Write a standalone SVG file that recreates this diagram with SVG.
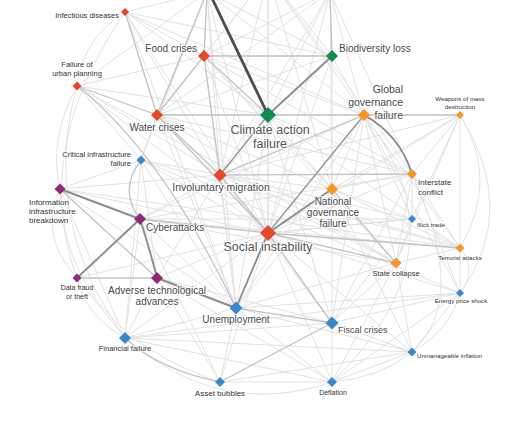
<svg xmlns="http://www.w3.org/2000/svg" width="531" height="442" viewBox="0 0 531 442">
<style>
.e1{stroke:#e2e2e2;stroke-width:1;fill:none}
.e2{stroke:#c3c3c3;stroke-width:1.3;fill:none}
.e3{stroke:#8c8c8c;stroke-width:1.9;fill:none}
.e4{stroke:#4d4d4d;stroke-width:2.8;fill:none}
.r{fill:#e4472b}.g{fill:#128a52}.o{fill:#f2962a}.b{fill:#3c87c7}.p{fill:#8c2a7c}
text{font-family:"Liberation Sans",Arial,sans-serif;fill:#444;stroke:#fff;stroke-width:2;stroke-opacity:0.75;paint-order:stroke}
.lg{font-size:12.5px;fill:#555}
.md{font-size:10px;fill:#4a4a4a}
.sm{font-size:7.5px;fill:#333}
.xs{font-size:6.2px;fill:#333}
</style>
<rect width="531" height="442" fill="#fff"/>
<g id="connectors">
<g class="e1">
<path d="M207 -8L204 56M207 -8L157 115M207 -8L220 175M207 -8L268 233M207 -8L332 56M207 -8L125 12M207 -8L77 86M207 -8L364 115M207 -8L141 160M207 -8L236 308"/>
<path d="M268 -25L268 115M268 -25L204 56M268 -25L332 56M268 -25L268 233M268 -25L220 175M268 -25L157 115M268 -25L364 115M268 -25L332 189M268 -25L412 174"/>
<path d="M330 -8L332 56M330 -8L268 115M330 -8L204 56M330 -8L364 115M330 -8L220 175M330 -8L268 233M330 -8L157 115M330 -8L412 174M330 -8L332 189"/>
<path d="M125 12L204 56M125 12L268 115M125 12L220 175M125 12L268 233M125 12L236 308M125 12L364 115M125 12L332 56"/>
<path d="M204 56L332 56M204 56L268 233M204 56L77 86M204 56L364 115M204 56L412 174M204 56L332 189M204 56L236 308M204 56L396 263"/>
<path d="M332 56L364 115M332 56L157 115M332 56L220 175M332 56L268 233M332 56L332 189"/>
<path d="M77 86L268 115M77 86L220 175M77 86L268 233M77 86L141 160M77 86L396 263"/>
<path d="M157 115L268 233M157 115L364 115M157 115L332 189M157 115L412 174M157 115L396 263M157 115L236 308M157 115L141 160"/>
<path d="M268 115L268 233M268 115L332 189M268 115L412 174M268 115L396 263M268 115L236 308M268 115L332 323M268 115L460 248"/>
<path d="M364 115L220 175M364 115L332 189M364 115L396 263M364 115L460 248M364 115L460 115M364 115L412 219M364 115L332 323M364 115L236 308M364 115L460 293M364 115L140 219"/>
<path d="M460 115L412 174M460 115L460 248M460 115L396 263M460 115L268 233M460 115L332 189M460 115L220 175M460 115L412 219"/>
<path d="M141 160L60 189M141 160L268 233M141 160L220 175M141 160L157 278M141 160L125 338M141 160L236 308M141 160L460 293M141 160L460 248"/>
<path d="M60 189L157 278M60 189L268 233M60 189L220 175M60 189L125 338M60 189L236 308M60 189L460 248"/>
<path d="M220 175L332 189M220 175L396 263M220 175L236 308M220 175L460 248M220 175L332 323M220 175L412 219M220 175L157 278M220 175L140 219"/>
<path d="M332 189L396 263M332 189L412 174M332 189L412 219M332 189L460 248M332 189L332 323M332 189L236 308M332 189L412 352"/>
<path d="M412 174L268 233M412 174L396 263M412 174L460 248M412 174L412 219M412 174L460 293M412 174L332 323"/>
<path d="M140 219L268 233M140 219L236 308M140 219L125 338M140 219L460 248M140 219L412 174M140 219L396 263M140 219L412 219M140 219L220 382"/>
<path d="M412 219L268 233M412 219L396 263M412 219L460 248M412 219L332 323"/>
<path d="M268 233L332 323M268 233L157 278M268 233L332 382M268 233L220 382M268 233L125 338M268 233L412 352M268 233L460 293M268 233L412 219"/>
<path d="M460 248L396 263M460 248L460 293"/>
<path d="M396 263L332 323M396 263L236 308M396 263L412 352M396 263L332 382"/>
<path d="M77 278L125 338M77 278L268 233"/>
<path d="M157 278L125 338M157 278L220 382M157 278L332 323M157 278L332 382"/>
<path d="M460 293L332 323M460 293L412 352M460 293L332 382M460 293L236 308"/>
<path d="M236 308L220 382M236 308L332 382M236 308L125 338M236 308L412 352"/>
<path d="M125 338L332 323M125 338L332 382M125 338L412 352M125 338L460 293"/>
<path d="M332 323L332 382M332 323L412 352"/>
<path d="M412 352L332 382M412 352L220 382M220 382L332 382"/>
<path d="M60 189Q38 235 77 278M77 86Q48 140 60 189M125 12Q82 40 77 86M460 115Q500 180 460 248M460 248Q478 272 460 293M460 293Q450 330 412 352M412 352Q380 378 332 382M125 338Q220 420 332 382M77 278Q85 315 125 338M460 115Q520 210 460 293M60 189Q65 330 220 382M77 86Q40 220 125 338M412 174Q470 300 412 352M125 12Q30 150 77 278M364 115Q470 250 332 382"/>
</g>
<g class="e2">
<path d="M125 12L157 115M77 86L157 115M77 86Q160 150 236 308M204 56L157 115M204 56L268 115M207 -8L204 56M204 56L220 175M157 115L268 115M157 115L220 175M268 115L364 115M220 175L268 233M364 115L220 175M268 233L396 263M268 233L460 248M77 278L157 278M60 189L157 278M236 308L332 323M332 323L220 382M332 189L396 263M220 175L412 174M330 -8L332 56M204 56L332 56M364 115L460 115M141 160Q118 190 140 219M268 233L332 323M140 219L268 233M207 -8L157 115M157 115L268 233"/>
<path d="M125 338Q160 370 220 382"/>
</g>
<g class="e3">
<path d="M332 56L268 115M60 189L140 219M140 219L77 278M157 278L236 308M268 233L236 308M332 189L268 233M364 115Q400 135 412 174M140 219Q150 250 157 278"/>
<path d="M268 115L220 175M364 115L268 233" style="stroke:#9a9a9a;stroke-width:1.5"/>
</g>
<path class="e4" d="M209 -8L268 115"/>
</g>
<g id="inf"><path class="r" d="M125 8l4 4l-4 4l-4-4z"/><text class="sm" x="119" y="18" text-anchor="end">Infectious diseases</text></g>
<g id="food"><path class="r" d="M204 50l6 6l-6 6l-6-6z"/><text class="md" x="197" y="52" text-anchor="end">Food crises</text></g>
<g id="bio"><path class="g" d="M332 50l6 6l-6 6l-6-6z"/><text class="md" x="339" y="52">Biodiversity loss</text></g>
<g id="urb"><path class="r" d="M77 81.5l4.5 4.5l-4.5 4.5l-4.5-4.5z"/><text class="sm" x="77" y="67" text-anchor="middle">Failure of</text><text class="sm" x="77" y="76" text-anchor="middle">urban planning</text></g>
<g id="wat"><path class="r" d="M157 109l6 6l-6 6l-6-6z"/><text class="md" x="157" y="131" text-anchor="middle">Water crises</text></g>
<g id="cli"><path class="g" d="M268 107l8 8l-8 8l-8-8z"/><text class="lg" x="270" y="134" text-anchor="middle">Climate action</text><text class="lg" x="270" y="148" text-anchor="middle">failure</text></g>
<g id="ggf"><path class="o" d="M364 109l6 6l-6 6l-6-6z"/><text class="md" x="403" y="93" text-anchor="end" style="font-size:10.5px">Global</text><text class="md" x="403" y="106" text-anchor="end" style="font-size:10.5px">governance</text><text class="md" x="403" y="119" text-anchor="end" style="font-size:10.5px">failure</text></g>
<g id="wmd"><path class="o" d="M460 111l4 4l-4 4l-4-4z"/><text class="xs" x="460" y="101" text-anchor="middle">Weapons of mass</text><text class="xs" x="460" y="109" text-anchor="middle">destruction</text></g>
<g id="cif"><path class="b" d="M141 155.5l4.5 4.5l-4.5 4.5l-4.5-4.5z"/><text class="sm" x="131" y="157" text-anchor="end">Critical infrastructure</text><text class="sm" x="131" y="166" text-anchor="end">failure</text></g>
<g id="iib"><path class="p" d="M60 183.5l5.5 5.5l-5.5 5.5l-5.5-5.5z"/><text class="sm" x="29" y="205" style="font-size:8px">Information</text><text class="sm" x="29" y="214" style="font-size:8px">infrastructure</text><text class="sm" x="29" y="223" style="font-size:8px">breakdown</text></g>
<g id="mig"><path class="r" d="M220 168.5l6.5 6.5l-6.5 6.5l-6.5-6.5z"/><text class="md" x="221" y="191" text-anchor="middle" style="font-size:10.5px">Involuntary migration</text></g>
<g id="ngf"><path class="o" d="M332 183l6 6l-6 6l-6-6z"/><text class="md" x="333" y="205" text-anchor="middle">National</text><text class="md" x="333" y="216" text-anchor="middle">governance</text><text class="md" x="333" y="227" text-anchor="middle">failure</text></g>
<g id="isc"><path class="o" d="M412 169l5 5l-5 5l-5-5z"/><text class="sm" x="418" y="185" style="font-size:8px">Interstate</text><text class="sm" x="418" y="195" style="font-size:8px">conflict</text></g>
<g id="cyb"><path class="p" d="M140 213l6 6l-6 6l-6-6z"/><text class="md" x="146" y="231">Cyberattacks</text></g>
<g id="ill"><path class="b" d="M412 215l4 4l-4 4l-4-4z"/><text class="xs" x="417" y="227">Illicit trade</text></g>
<g id="soc"><path class="r" d="M268 225l8 8l-8 8l-8-8z"/><text class="lg" x="268" y="251" text-anchor="middle">Social instability</text></g>
<g id="ter"><path class="o" d="M460 243.5l4.5 4.5l-4.5 4.5l-4.5-4.5z"/><text class="xs" x="460" y="260" text-anchor="middle">Terrorist attacks</text></g>
<g id="sta"><path class="o" d="M396 257.5l5.5 5.5l-5.5 5.5l-5.5-5.5z"/><text class="sm" x="396" y="276" text-anchor="middle">State collapse</text></g>
<g id="dft"><path class="p" d="M77 273.5l4.5 4.5l-4.5 4.5l-4.5-4.5z"/><text class="sm" x="77" y="290" text-anchor="middle" style="font-size:7px">Data fraud</text><text class="sm" x="77" y="299" text-anchor="middle" style="font-size:7px">or theft</text></g>
<g id="adv"><path class="p" d="M157 272l6 6l-6 6l-6-6z"/><text class="md" x="157" y="294" text-anchor="middle">Adverse technological</text><text class="md" x="157" y="305" text-anchor="middle">advances</text></g>
<g id="eps"><path class="b" d="M460 289l4 4l-4 4l-4-4z"/><text class="xs" x="461" y="303" text-anchor="middle">Energy price shock</text></g>
<g id="une"><path class="b" d="M236 301.5l6.5 6.5l-6.5 6.5l-6.5-6.5z"/><text class="md" x="236" y="323" text-anchor="middle">Unemployment</text></g>
<g id="fin"><path class="b" d="M125 332l6 6l-6 6l-6-6z"/><text class="sm" x="125" y="351" text-anchor="middle">Financial failure</text></g>
<g id="fis"><path class="b" d="M332 316.5l6.5 6.5l-6.5 6.5l-6.5-6.5z"/><text class="md" x="338" y="333" style="font-size:9px">Fiscal crises</text></g>
<g id="umi"><path class="b" d="M412 347.5l4.5 4.5l-4.5 4.5l-4.5-4.5z"/><text class="xs" x="417" y="358">Unmanageable inflation</text></g>
<g id="ass"><path class="b" d="M220 377l5 5l-5 5l-5-5z"/><text class="sm" x="220" y="396" text-anchor="middle" style="font-size:8px">Asset bubbles</text></g>
<g id="def"><path class="b" d="M332 377l5 5l-5 5l-5-5z"/><text class="sm" x="333" y="395" text-anchor="middle" style="font-size:7px">Deflation</text></g>
</svg>
